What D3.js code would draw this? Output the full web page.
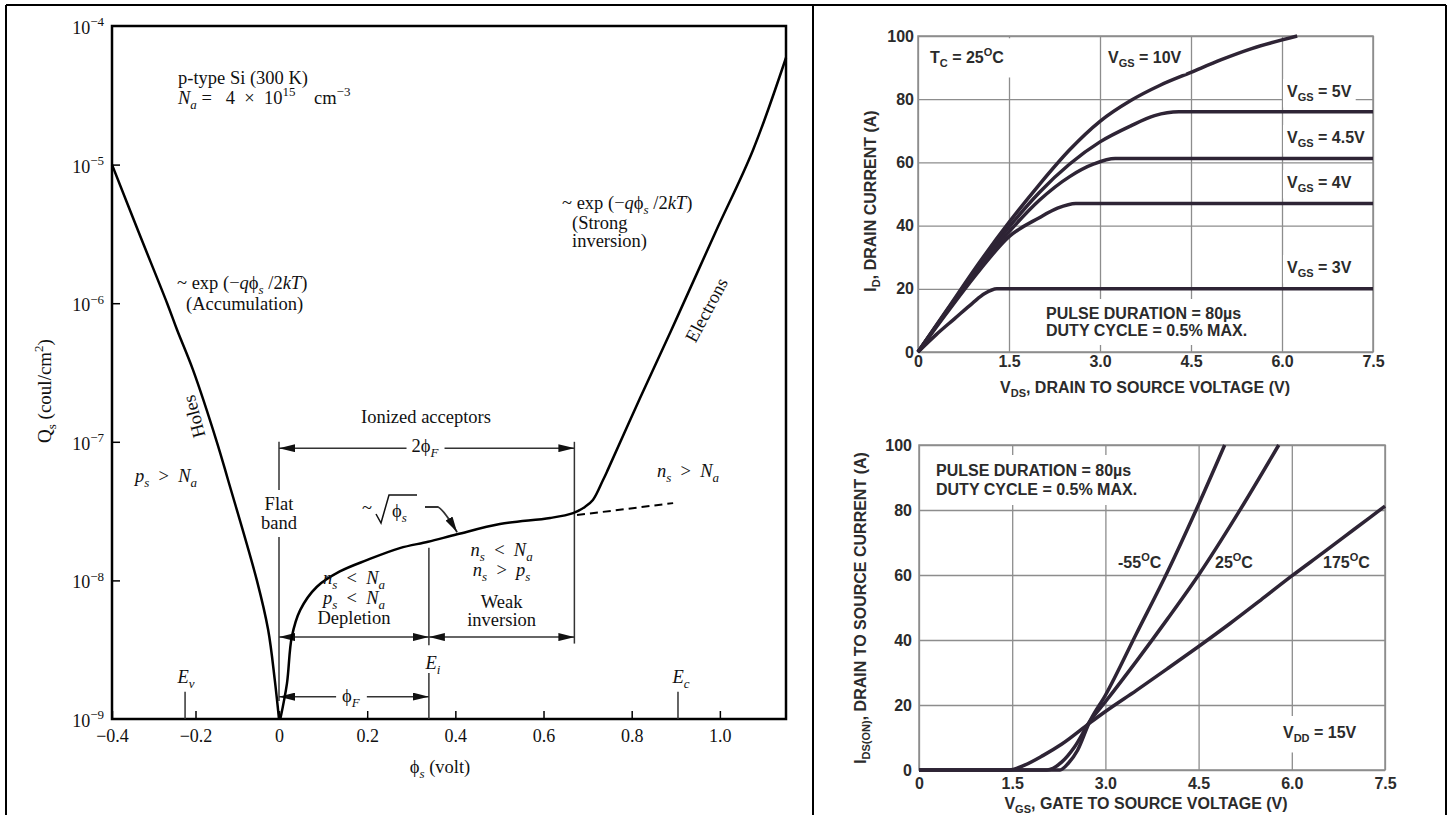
<!DOCTYPE html>
<html>
<head>
<meta charset="utf-8">
<script src="https://cdn.jsdelivr.net/npm/d3@7"></script>
<style>
body { margin: 0; background: #fff; }
svg { display: block; }
.serif { font-family: "Liberation Serif", "Times New Roman", "DejaVu Serif", serif; fill: #111; }
.sans { font-family: "Liberation Sans", Arial, sans-serif; font-weight: bold; fill: #2b2b2b; }
</style>
</head>
<body>
<svg width="1447" height="815"></svg>
<script>
// ---- left panel: surface charge Qs vs surface potential phi_s ----
var phiTicks = [-0.4, -0.2, 0, 0.2, 0.4, 0.6, 0.8, 1.0];
var qsDecades = [1e-9, 1e-8, 1e-7, 1e-6, 1e-5, 1e-4];

// accumulation branch (holes)
var holesCurve = [
  [-0.400, 1.0e-5], [-0.337, 3.3e-6], [-0.268, 1.0e-6], [-0.244, 6.4e-7],
  [-0.206, 3.3e-7], [-0.149, 1.0e-7], [-0.122, 5.3e-8], [-0.053, 1.0e-8],
  [-0.026, 4.4e-9], [-0.010, 1.9e-9], [0.000, 1.0e-9]
];
// depletion -> weak -> strong inversion branch
var electronCurve = [
  [0.003, 1.0e-9], [0.018, 1.8e-9], [0.029, 3.9e-9], [0.048, 6.1e-9],
  [0.086, 9.0e-9], [0.138, 1.16e-8], [0.199, 1.40e-8], [0.274, 1.71e-8],
  [0.338, 1.90e-8], [0.404, 2.15e-8], [0.501, 2.55e-8], [0.615, 2.82e-8],
  [0.667, 3.06e-8], [0.694, 3.39e-8], [0.712, 3.80e-8], [0.735, 5.3e-8],
  [0.746, 6.3e-8], [0.819, 2.07e-7], [0.903, 7.9e-7], [0.989, 3.2e-6],
  [1.075, 1.27e-5], [1.150, 5.9e-5]
];
// depletion charge continued past 2phiF (dashed)
var depletionExtension = [[0.676, 2.96e-8], [0.894, 3.61e-8]];

var phiF = 0.34, twoPhiF = 0.67, phiEv = -0.225, phiEc = 0.905;

// ---- right panels ----
var voltTicks = [0, 1.5, 3.0, 4.5, 6.0, 7.5];
var ampTicks = [0, 20, 40, 60, 80, 100];

// output characteristics, ID vs VDS
var vgs10 = [[0,0],[0.5,14],[1.0,28],[1.5,41],[2.0,53],[2.5,64],[3.0,73],[3.5,79.5],[4.0,84.5],[4.5,88.5],[5.0,92.5],[5.5,96],[6.25,100]];
var vgs5 = [[0,0],[0.5,13.8],[1.0,27],[1.5,39.5],[2.0,50.5],[2.5,59.5],[3.0,66.5],[3.5,71.5],[3.9,74.8],[4.3,76],[7.5,76]];
var vgs45 = [[0,0],[0.5,13.5],[1.0,26.5],[1.5,38],[2.0,48],[2.5,55.5],[2.9,59.5],[3.25,61.2],[7.5,61.2]];
var vgs4 = [[0,0],[0.5,13],[1.0,25.5],[1.5,36.5],[2.0,42.5],[2.3,45.5],[2.6,47],[7.5,47]];
var vgs3 = [[0,0],[0.3,5.5],[0.6,10.5],[0.9,15.5],[1.1,18.5],[1.3,20],[7.5,20]];

// transfer characteristics, IDS(ON) vs VGS
var tMinus55 = [[0,0],[2.27,0],[2.4,2],[2.55,6],[2.75,15],[3.0,23],[3.5,42],[4.0,61],[4.46,80],[4.92,100]];
var t25 = [[0,0],[2.06,0],[2.3,2.5],[2.5,7],[2.75,15],[3.0,21],[3.5,33.5],[4.0,46.5],[4.5,60],[5.15,79.5],[5.79,100]];
var t175 = [[0,0],[1.45,0],[1.7,1.5],[2.0,4.5],[2.3,8],[2.75,14.5],[3.0,18],[3.5,24.5],[4.0,31.2],[4.5,38],[5.0,45],[5.5,52.3],[6.0,59.7],[6.5,66.8],[7.0,74],[7.5,81.2]];

var svg = d3.select("svg");

// rich text: lines of [text, kind] parts, kind in "", "it", "sub", "sup", "itsub"
function label(parent, x, y, lines, o) {
  o = o || {};
  var size = o.size || 18.5, lh = o.lh || size * 1.15;
  var g = parent.append("g")
      .attr("transform", "translate(" + x + "," + y + ")" + (o.rotate ? " rotate(" + o.rotate + ")" : ""));
  lines.forEach(function(parts, i) {
    var t = g.append("text").attr("y", i * lh)
        .attr("text-anchor", o.anchor || "start")
        .style("font-size", size + "px").style("white-space", "pre");
    var shift = 0;
    parts.forEach(function(p) {
      var kind = p[1] || "";
      var to = kind.indexOf("sub") >= 0 ? size * 0.28 : kind.indexOf("sup") >= 0 ? -size * 0.42 : 0;
      var s = t.append("tspan").attr("dy", to - shift).text(p[0]);
      if (to) s.style("font-size", Math.round(size * 0.7) + "px");
      if (kind.indexOf("it") >= 0) s.style("font-style", "italic");
      shift = to;
    });
  });
  if (o.box) {
    var bb = g.node().getBBox(), px = o.pad == null ? 4 : o.pad;
    g.insert("rect", ":first-child")
      .attr("x", bb.x - px).attr("y", bb.y - px)
      .attr("width", bb.width + 2 * px).attr("height", bb.height + 2 * px)
      .attr("fill", o.box);
  }
  return g;
}

function cleanAxis(a) {
  a.attr("font-family", null).attr("font-size", null);
  a.select(".domain").remove();
}

// page frame
var frame = svg.append("g").attr("stroke", "#000").attr("stroke-width", 2);
[[6, 5, 1446, 5], [6, 5, 6, 815], [813, 5, 813, 815], [1446, 5, 1446, 815]].forEach(function(l) {
  frame.append("line").attr("x1", l[0]).attr("y1", l[1]).attr("x2", l[2]).attr("y2", l[3]);
});

// ================= left panel =================
var L = svg.append("g").attr("class", "serif");
var x = d3.scaleLinear().domain([-0.4, 0, 1.15]).range([112, 279, 786]);
var y = d3.scaleLog().domain([1e-9, 1e-4]).range([719, 26]);

var defs = svg.append("defs");
defs.append("marker").attr("id", "ah")
  .attr("viewBox", "0 0 16 8").attr("refX", 16).attr("refY", 4)
  .attr("markerWidth", 16).attr("markerHeight", 8)
  .attr("markerUnits", "userSpaceOnUse").attr("orient", "auto-start-reverse")
  .append("path").attr("d", "M0,0L16,4L0,8z").attr("fill", "#111");

L.append("g").attr("transform", "translate(0," + y(1e-9) + ")")
  .call(d3.axisBottom(x).tickValues(phiTicks).tickSize(-8).tickPadding(10)
    .tickFormat(function(d) { return d === 0 ? "0" : d3.format(".1f")(d); }))
  .call(cleanAxis)
  .call(function(a) {
    a.selectAll("line").attr("stroke", "#000").attr("stroke-width", 1.5);
    a.selectAll("text").attr("fill", "#111").style("font-size", "18px");
  });

L.append("g").attr("transform", "translate(" + x(-0.4) + ",0)")
  .call(d3.axisLeft(y).tickValues(qsDecades.slice(1, -1)).tickSize(-8).tickFormat(""))
  .call(cleanAxis)
  .call(function(a) { a.selectAll("line").attr("stroke", "#000").attr("stroke-width", 1.5); });

qsDecades.forEach(function(d) {
  label(L, 104, y(d) + 8, [[["10"], ["\u2212" + Math.round(-Math.log10(d)), "sup"]]], { anchor: "end", size: 18 });
});

L.append("rect")
  .attr("x", x(-0.4)).attr("y", y(1e-4))
  .attr("width", x(1.15) - x(-0.4)).attr("height", y(1e-9) - y(1e-4))
  .attr("fill", "none").attr("stroke", "#000").attr("stroke-width", 2.5);

label(L, 51, 391, [[["Q"], ["s", "sub"], [" (coul/cm"], ["2", "sup"], [")"]]], { anchor: "middle", rotate: -90, size: 19 });
label(L, 440, 773, [[["\u03d5"], ["s", "itsub"], [" (volt)"]]], { anchor: "middle" });

// dimension lines
var dims = L.append("g").attr("stroke", "#333").attr("stroke-width", 1.5).attr("fill", "none");
function vline(px, qTop, qBot) {
  dims.append("line").attr("x1", x(px)).attr("x2", x(px)).attr("y1", y(qTop)).attr("y2", y(qBot));
}
function harrow(p0, p1, q) {
  dims.append("line").attr("x1", x(p0)).attr("x2", x(p1)).attr("y1", y(q)).attr("y2", y(q))
    .attr("marker-start", "url(#ah)").attr("marker-end", "url(#ah)");
}
vline(0, 1.0e-7, 1.35e-9);
vline(twoPhiF, 1.0e-7, 3.5e-9);
vline(phiF, 1.72e-8, 3.4e-9);
vline(phiF, 2.15e-9, 1e-9);
vline(phiEv, 1.57e-9, 1e-9);
vline(phiEc, 1.57e-9, 1e-9);
harrow(0, twoPhiF, 9.0e-8);
harrow(0, phiF, 3.9e-9);
harrow(phiF, twoPhiF, 3.9e-9);
harrow(0, phiF, 1.45e-9);

// curves
var lineL = d3.line().x(function(d) { return x(d[0]); }).y(function(d) { return y(d[1]); })
  .curve(d3.curveCatmullRom.alpha(0.5));
L.append("path").attr("d", lineL(holesCurve)).attr("fill", "none").attr("stroke", "#000").attr("stroke-width", 2.5);
L.append("path").attr("d", lineL(electronCurve)).attr("fill", "none").attr("stroke", "#000").attr("stroke-width", 2.5);
L.append("path").attr("d", lineL(depletionExtension)).attr("fill", "none").attr("stroke", "#000")
  .attr("stroke-width", 2).attr("stroke-dasharray", "8,5");

// annotations
label(L, 178, 84, [[["p-type Si (300 K)"]]]);
label(L, 178, 104, [[["N", "it"], ["a", "itsub"], [" =   4  \u00d7  10"], ["15", "sup"], ["    cm"], ["\u22123", "sup"]]]);
label(L, 177, 289, [[["~ exp (\u2212"], ["q", "it"], ["\u03d5"], ["s", "itsub"], [" /2"], ["kT", "it"], [")"]]]);
label(L, 186, 310, [[["(Accumulation)"]]]);
label(L, 200, 415, [[["Holes"]]], { anchor: "middle", rotate: -105 });
label(L, 135, 482, [[["p", "it"], ["s", "itsub"], ["  >  "], ["N", "it"], ["a", "itsub"]]]);
label(L, 426, 423, [[["Ionized acceptors"]]], { anchor: "middle" });
label(L, 425, 452, [[["2\u03d5"], ["F", "itsub"]]], { anchor: "middle", box: "#fff", pad: 5 });
label(L, x(0), 510, [[["Flat"]], [["band"]]], { anchor: "middle", lh: 19, box: "#fff", pad: 4 });
label(L, (x(0) + x(phiF)) / 2, 584, [
  [["n", "it"], ["s", "itsub"], ["  <  "], ["N", "it"], ["a", "itsub"]],
  [["p", "it"], ["s", "itsub"], ["  <  "], ["N", "it"], ["a", "itsub"]],
  [["Depletion"]]
], { anchor: "middle", lh: 20 });
label(L, (x(phiF) + x(twoPhiF)) / 2, 556, [
  [["n", "it"], ["s", "itsub"], ["  <  "], ["N", "it"], ["a", "itsub"]],
  [["n", "it"], ["s", "itsub"], ["  >  "], ["p", "it"], ["s", "itsub"]]
], { anchor: "middle", lh: 20 });
label(L, (x(phiF) + x(twoPhiF)) / 2, 608, [[["Weak"]], [["inversion"]]], { anchor: "middle", lh: 18 });
label(L, (x(0) + x(phiF)) / 2 - 3, 702, [[["\u03d5"], ["F", "itsub"]]], { anchor: "middle", box: "#fff", pad: 6 });
label(L, x(phiF) + 4, 669, [[["E", "it"], ["i", "itsub"]]], { anchor: "middle" });
label(L, x(phiEv) + 1, 683, [[["E", "it"], ["v", "itsub"]]], { anchor: "middle" });
label(L, x(phiEc) + 3, 683, [[["E", "it"], ["c", "itsub"]]], { anchor: "middle" });
label(L, 657, 477, [[["n", "it"], ["s", "itsub"], ["  >  "], ["N", "it"], ["a", "itsub"]]]);
label(L, 562, 209, [[["~ exp (\u2212"], ["q", "it"], ["\u03d5"], ["s", "itsub"], [" /2"], ["kT", "it"], [")"]]]);
label(L, 572, 229, [[["(Strong"]], [["inversion)"]]], { lh: 18 });
label(L, 712, 313, [[["Electrons"]]], { anchor: "middle", rotate: -62 });

// ~ sqrt(phi_s) with leader arrow to the depletion curve
var sq = L.append("g").attr("transform", "translate(362,514)");
label(sq, 0, 0, [[["~"]]]);
sq.append("path").attr("d", "M14,0 L19,9 L27,-19 L55,-19")
  .attr("fill", "none").attr("stroke", "#111").attr("stroke-width", 1.5);
label(sq, 30, 3, [[["\u03d5"], ["s", "itsub"]]]);
dims.append("path")
  .attr("d", "M425,507 L438,507 Q444,510 " + x(0.404) + "," + (y(2.15e-8) - 2))
  .attr("stroke-width", 1.8).attr("marker-end", "url(#ah)");

// ================= right panels =================
var gridColor = "#8d8d8d", curveColor = "#2e2435";

function ivPanel(x0, x1, y0, y1, xPad, yPad) {
  var g = svg.append("g").attr("class", "sans");
  var sx = d3.scaleLinear().domain([0, 7.5]).range([x0, x1]);
  var sy = d3.scaleLinear().domain([0, 100]).range([y0, y1]);
  var styleAx = function(a) {
    cleanAxis(a);
    a.selectAll("line").attr("stroke", gridColor).attr("stroke-width", 1.3);
    a.selectAll("text").attr("fill", "#2b2b2b").style("font-size", "16px");
  };
  g.append("g").attr("transform", "translate(0," + y0 + ")")
    .call(d3.axisBottom(sx).tickValues(voltTicks).tickSize(-(y0 - y1)).tickSizeOuter(0).tickPadding(xPad)
      .tickFormat(function(d) { return d === 0 ? "0" : d3.format(".1f")(d); }))
    .call(styleAx);
  g.append("g").attr("transform", "translate(" + x0 + ",0)")
    .call(d3.axisLeft(sy).tickValues(ampTicks).tickSize(-(x1 - x0)).tickSizeOuter(0).tickPadding(yPad))
    .call(styleAx);
  g.append("rect").attr("x", x0).attr("y", y1).attr("width", x1 - x0).attr("height", y0 - y1)
    .attr("fill", "none").attr("stroke", gridColor).attr("stroke-width", 1.5);
  var line = d3.line().x(function(d) { return sx(d[0]); }).y(function(d) { return sy(d[1]); }).curve(d3.curveMonotoneX);
  return { g: g, x: sx, y: sy, line: line };
}

function drawCurves(p, list) {
  p.g.append("g").selectAll("path").data(list).enter().append("path")
    .attr("d", p.line).attr("fill", "none").attr("stroke", curveColor)
    .attr("stroke-width", 3.5).attr("stroke-linejoin", "round");
}

// upper right: output characteristics
var outPanel = ivPanel(918, 1373, 352, 36, 4, 4);
drawCurves(outPanel, [vgs3, vgs4, vgs45, vgs5, vgs10]);
var box = { size: 16, box: "#fff", pad: 4 };
label(outPanel.g, 930, 63, [[["T"], ["C", "sub"], [" = 25"], ["O", "sup"], ["C"]]], { size: 16, box: "#fff", pad: 8 });
label(outPanel.g, 1108, 63, [[["V"], ["GS", "sub"], [" = 10V"]]], box);
label(outPanel.g, 1287, 97, [[["V"], ["GS", "sub"], [" = 5V"]]], box);
label(outPanel.g, 1287, 143, [[["V"], ["GS", "sub"], [" = 4.5V"]]], box);
label(outPanel.g, 1287, 188, [[["V"], ["GS", "sub"], [" = 4V"]]], box);
label(outPanel.g, 1287, 273, [[["V"], ["GS", "sub"], [" = 3V"]]], box);
label(outPanel.g, 1046, 319, [[["PULSE DURATION = 80\u00b5s"]], [["DUTY CYCLE = 0.5% MAX."]]], { size: 16, lh: 17, box: "#fff", pad: 6 });
label(outPanel.g, 876, 201, [[["I"], ["D", "sub"], [", DRAIN CURRENT (A)"]]], { size: 16, anchor: "middle", rotate: -90 });
label(outPanel.g, 1145, 393, [[["V"], ["DS", "sub"], [", DRAIN TO SOURCE VOLTAGE (V)"]]], { size: 16, anchor: "middle" });

// lower right: transfer characteristics
var xferPanel = ivPanel(919, 1385, 770, 445, 8, 7);
drawCurves(xferPanel, [t175, t25, tMinus55]);
label(xferPanel.g, 936, 476, [[["PULSE DURATION = 80\u00b5s"]], [["DUTY CYCLE = 0.5% MAX."]]], { size: 16, lh: 19, box: "#fff", pad: 7 });
label(xferPanel.g, 1118, 568, [[["-55"], ["O", "sup"], ["C"]]], { size: 16 });
label(xferPanel.g, 1215, 568, [[["25"], ["O", "sup"], ["C"]]], { size: 16 });
label(xferPanel.g, 1323, 568, [[["175"], ["O", "sup"], ["C"]]], { size: 16 });
label(xferPanel.g, 1283, 738, [[["V"], ["DD", "sub"], [" = 15V"]]], { size: 16, box: "#fff", pad: 8 });
label(xferPanel.g, 866, 608, [[["I"], ["DS(ON)", "sub"], [", DRAIN TO SOURCE CURRENT (A)"]]], { size: 16, anchor: "middle", rotate: -90 });
label(xferPanel.g, 1146, 809, [[["V"], ["GS", "sub"], [", GATE TO SOURCE VOLTAGE (V)"]]], { size: 16, anchor: "middle" });
</script>
</body>
</html>
